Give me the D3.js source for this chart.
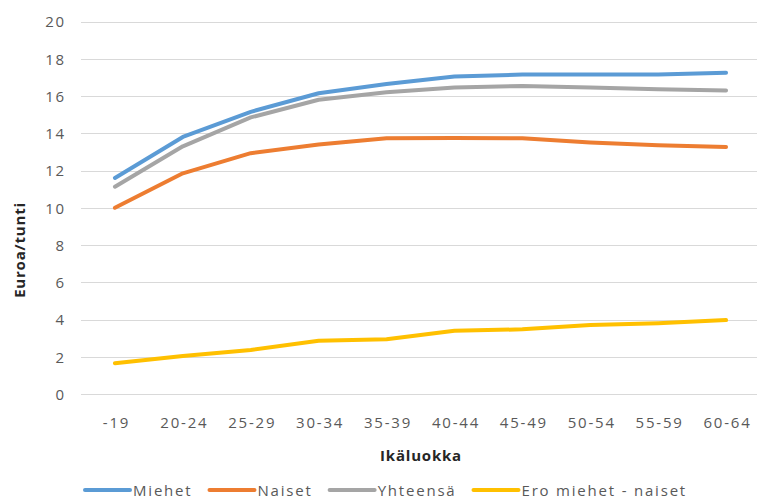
<!DOCTYPE html>
<html lang="fi">
  <meta charset="UTF-8" />
  <title>Euroa/tunti ikäluokittain</title>
  <style>
    body { margin: 0; background: #fff; }
    text { font-family: "Open Sans", sans-serif; }
  </style>
  <script src="https://d3js.org/d3.v7.min.js"></script>
  <body>
    <div id="chart"></div>
    <script>
      // data
      const ageGroups = ["-19", "20-24", "25-29", "30-34", "35-39", "40-44", "45-49", "50-54", "55-59", "60-64"];
      const miehet = [11.6, 13.8, 15.15, 16.15, 16.65, 17.05, 17.15, 17.15, 17.15, 17.25];
      const naiset = [10.0, 11.85, 12.93, 13.4, 13.73, 13.75, 13.73, 13.5, 13.35, 13.26];
      const yhteensa = [11.13, 13.3, 14.85, 15.8, 16.2, 16.45, 16.54, 16.45, 16.36, 16.3];
      const ero = [1.65, 2.04, 2.36, 2.86, 2.94, 3.4, 3.47, 3.7, 3.8, 3.97];
      const yTicks = [0, 2, 4, 6, 8, 10, 12, 14, 16, 18, 20];

      const series = [
        { name: "Miehet", values: miehet, color: "#5B9BD5" },
        { name: "Naiset", values: naiset, color: "#ED7D31" },
        { name: "Yhteensä", values: yhteensa, color: "#A5A5A5" },
        { name: "Ero miehet - naiset", values: ero, color: "#FFC000" },
      ];

      const width = 757, height = 498;
      const svg = d3.select("#chart").append("svg")
        .attr("width", width).attr("height", height);

      const x = d3.scalePoint().domain(ageGroups).range([81, 760]).padding(0.5);
      const y = d3.scaleLinear().domain([0, 20]).range([394, 21.5]);

      // gridlines
      svg.append("g").selectAll("line").data(yTicks).enter().append("line")
        .attr("x1", 81).attr("x2", 760)
        .attr("y1", (d) => Math.round(y(d)) + 0.5).attr("y2", (d) => Math.round(y(d)) + 0.5)
        .attr("stroke", "#d9d9d9").attr("stroke-width", 1);

      // y axis labels
      const yAxis = svg.append("g").attr("transform", "translate(66,0)")
        .call(d3.axisLeft(y).tickValues(yTicks).tickSize(0).tickPadding(0));
      yAxis.select(".domain").remove();
      yAxis.selectAll("text")
        .attr("fill", "#595959").style("font-size", "15px").style("letter-spacing", "1.8px")
        .attr("dy", "0.36em");

      // x axis labels
      const xAxis = svg.append("g").attr("transform", "translate(0,414)")
        .call(d3.axisBottom(x).tickSize(0).tickPadding(0));
      xAxis.select(".domain").remove();
      xAxis.selectAll("text")
        .attr("fill", "#595959").style("font-size", "15px").style("letter-spacing", "1.8px")
        .attr("dx", "1px").attr("dy", "0.95em");

      // axis titles
      svg.append("text")
        .attr("transform", "translate(25,250) rotate(-90)")
        .attr("text-anchor", "middle")
        .attr("fill", "#262626").style("font-size", "15px").style("font-weight", "bold")
        .style("letter-spacing", "0.8px")
        .text("Euroa/tunti");
      svg.append("text")
        .attr("x", 421).attr("y", 461)
        .attr("text-anchor", "middle")
        .attr("fill", "#262626").style("font-size", "15px").style("font-weight", "bold")
        .style("letter-spacing", "0.8px")
        .text("Ikäluokka");

      // lines
      const line = d3.line()
        .x((d, i) => x(ageGroups[i]))
        .y((d) => y(d));
      svg.append("g").selectAll("path").data(series).enter().append("path")
        .attr("d", (d) => line(d.values))
        .attr("fill", "none")
        .attr("stroke", (d) => d.color)
        .attr("stroke-width", 4)
        .attr("stroke-linecap", "round")
        .attr("stroke-linejoin", "round");

      // legend
      const legend = svg.append("g");
      let lx = 85;
      series.forEach((s) => {
        legend.append("line")
          .attr("x1", lx).attr("x2", lx + 45)
          .attr("y1", 490).attr("y2", 490)
          .attr("stroke", s.color).attr("stroke-width", 4).attr("stroke-linecap", "round");
        const t = legend.append("text")
          .attr("x", lx + 48).attr("y", 495.5)
          .attr("fill", "#595959").style("font-size", "15px").style("letter-spacing", "1.8px")
          .text(s.name);
        lx = lx + 48 + t.node().getComputedTextLength() + 17;
      });
    </script>
  </body>
</html>
